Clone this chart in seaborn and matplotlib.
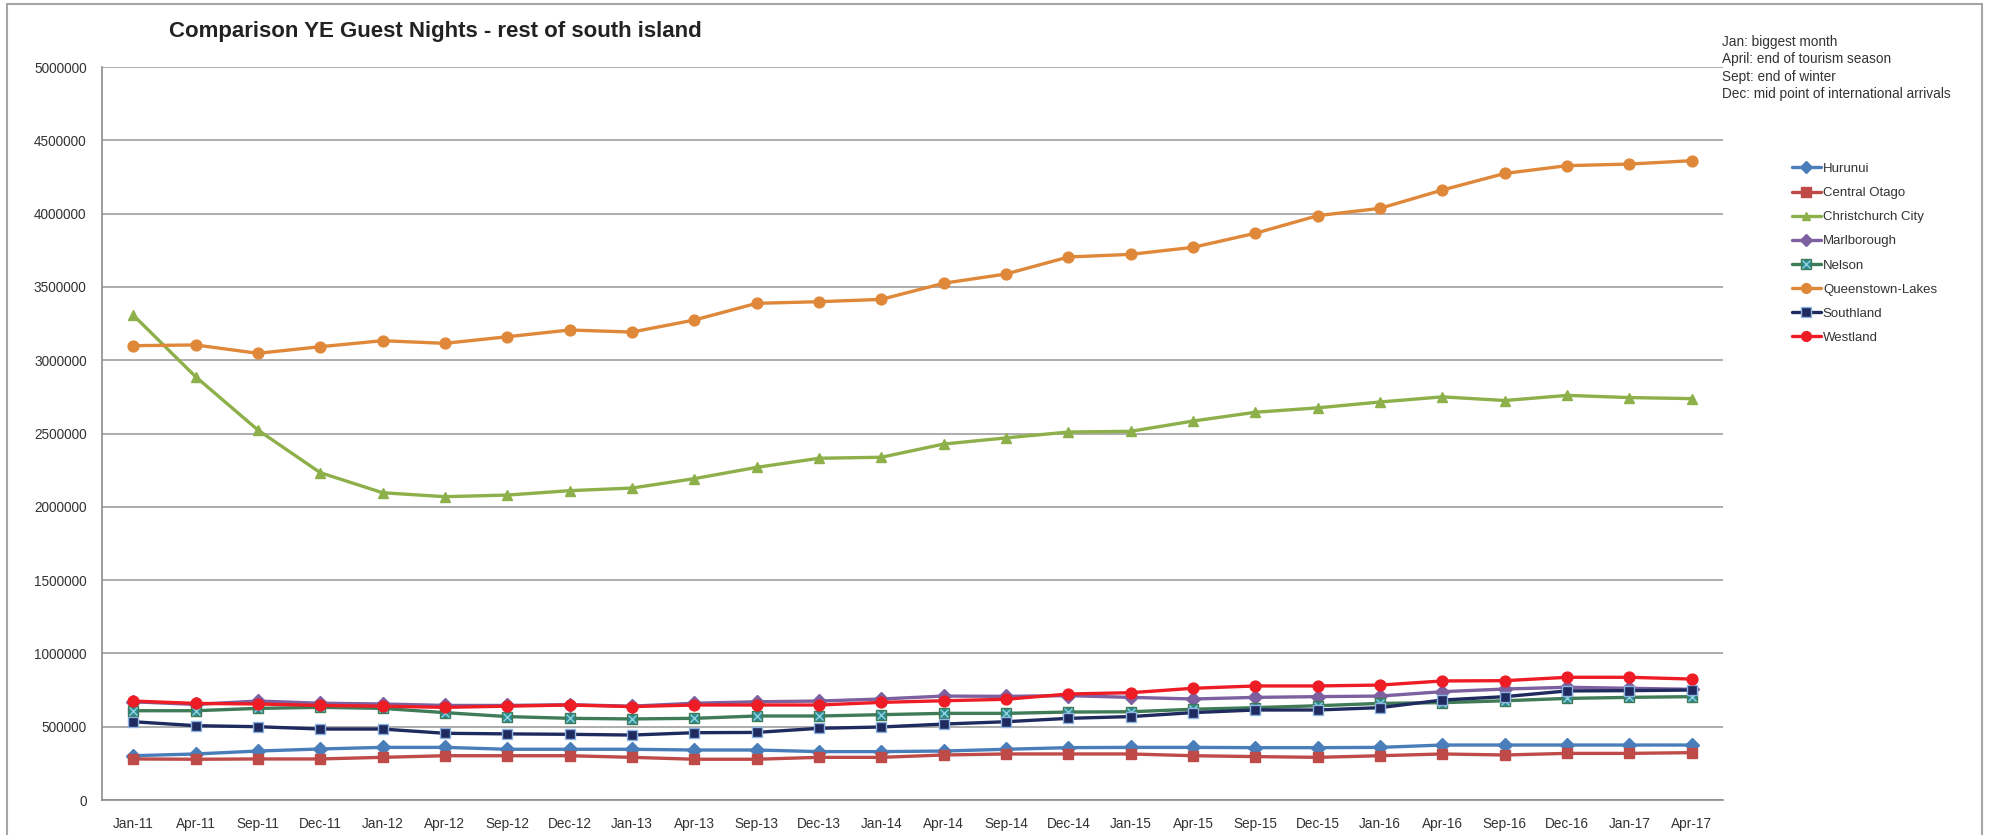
import numpy as np
import pandas as pd
import seaborn as sns
import matplotlib.pyplot as plt
from matplotlib.lines import Line2D

# periods (year ending)
periods = ['Jan-11', 'Apr-11', 'Sep-11', 'Dec-11', 'Jan-12', 'Apr-12', 'Sep-12', 'Dec-12',
           'Jan-13', 'Apr-13', 'Sep-13', 'Dec-13', 'Jan-14', 'Apr-14', 'Sep-14', 'Dec-14',
           'Jan-15', 'Apr-15', 'Sep-15', 'Dec-15', 'Jan-16', 'Apr-16', 'Sep-16', 'Dec-16',
           'Jan-17', 'Apr-17']

hurunui = [302000, 314000, 334000, 348000, 359000, 359000, 346000, 346000, 346000, 341000,
           341000, 330000, 330000, 334000, 346000, 357000, 359000, 359000, 357000, 357000,
           359000, 375000, 375000, 375000, 375000, 375000]
central_otago = [280000, 278000, 280000, 280000, 291000, 302000, 302000, 302000, 291000, 278000,
                 278000, 291000, 291000, 307000, 314000, 314000, 314000, 302000, 296000, 291000,
                 302000, 314000, 307000, 318000, 318000, 323000]
christchurch = [3308000, 2888000, 2524000, 2233000, 2096000, 2069000, 2080000, 2110000, 2128000,
                2192000, 2269000, 2331000, 2338000, 2428000, 2470000, 2510000, 2515000, 2585000,
                2645000, 2675000, 2715000, 2750000, 2725000, 2760000, 2745000, 2738000]
marlborough = [670000, 652000, 675000, 660000, 655000, 645000, 645000, 650000, 640000, 660000,
               670000, 675000, 689000, 709000, 707000, 712000, 700000, 689000, 700000, 705000,
               709000, 739000, 757000, 769000, 762000, 755000]
nelson = [609000, 609000, 625000, 632000, 625000, 596000, 569000, 557000, 553000, 557000,
          573000, 573000, 582000, 591000, 591000, 600000, 602000, 619000, 630000, 643000,
          659000, 664000, 677000, 693000, 700000, 705000]
queenstown = [3099000, 3104000, 3047000, 3092000, 3133000, 3115000, 3160000, 3206000, 3192000,
              3274000, 3388000, 3399000, 3415000, 3525000, 3588000, 3704000, 3722000, 3770000,
              3866000, 3986000, 4036000, 4161000, 4274000, 4327000, 4338000, 4361000]
southland = [534000, 507000, 500000, 484000, 484000, 455000, 451000, 448000, 443000, 459000,
             461000, 489000, 498000, 518000, 534000, 557000, 569000, 596000, 614000, 614000,
             630000, 682000, 705000, 744000, 746000, 750000]
westland = [675000, 659000, 655000, 645000, 640000, 632000, 640000, 648000, 637000, 648000,
            648000, 648000, 666000, 677000, 687000, 723000, 732000, 762000, 778000, 778000,
            784000, 812000, 814000, 837000, 837000, 825000]

notes = ['Jan: biggest month', 'April: end of tourism season', 'Sept: end of winter',
         'Dec: mid point of international arrivals']

series = [
    ('Hurunui', hurunui, '#4A7EBB', 'D', '#4A7EBB', '#4A7EBB'),
    ('Central Otago', central_otago, '#BE4B48', 's', '#BE4B48', '#BE4B48'),
    ('Christchurch City', christchurch, '#8DB04A', '^', '#8DB04A', '#8DB04A'),
    ('Marlborough', marlborough, '#7D60A0', 'D', '#7D60A0', '#7D60A0'),
    ('Nelson', nelson, '#3F7B57', 's', '#2E8A94', '#3F7B57'),
    ('Queenstown-Lakes', queenstown, '#E0883A', 'o', '#E0883A', '#E0883A'),
    ('Southland', southland, '#1F2A5E', 's', '#1F2A5E', '#8DB3E2'),
    ('Westland', westland, '#EE1C25', 'o', '#EE1C25', '#EE1C25'),
]

sns.set_style('white')
plt.rcParams['font.family'] = ['Liberation Sans', 'DejaVu Sans']

fig = plt.figure(figsize=(19.89, 8.35), dpi=100)
ax = fig.add_axes([102 / 1989, 1 - 800 / 835, (1723 - 102) / 1989, (800 - 67) / 835])

x = np.arange(len(periods))
handles, labels = [], []
for name, vals, col, mk, face, edge in series:
    df = pd.DataFrame({'period': x, 'value': vals})
    ms = 7.8 if mk in ('o', 's') else 6.8
    sns.lineplot(data=df, x='period', y='value', ax=ax, color=col, lw=2.4, sort=False,
                 marker=mk, markersize=ms, markerfacecolor=face, markeredgecolor=edge,
                 markeredgewidth=1.0, legend=False)
    h = Line2D([], [], color=col, lw=2.4, marker=mk, markersize=ms * 0.9,
               markerfacecolor=face, markeredgecolor=edge)
    if name == 'Nelson':
        # square marker with a light cross on top
        ax.plot(x, vals, ls='none', marker='x', ms=6, mec='#8FD3DA', mew=1.0)
        h = (h, Line2D([], [], ls='none', marker='x', ms=5.5, mec='#8FD3DA', mew=1.0))
    handles.append(h)
    labels.append(name)

ax.set_xlim(-0.5, len(periods) - 0.5)
ax.set_ylim(0, 5000000)
ax.set_yticks(np.arange(0, 5000001, 500000))
ax.yaxis.set_major_formatter(plt.FuncFormatter(lambda v, p: f'{int(v)}'))
ax.set_xticks(np.arange(-0.5, len(periods), 1.0))
ax.set_xticklabels([])
ax.set_xticks(x, minor=True)
ax.set_xticklabels(periods, minor=True)
ax.tick_params(axis='x', which='major', length=5, color='#8C8C8C', direction='out')
ax.tick_params(axis='x', which='minor', length=0, pad=12, labelsize=9.8, labelcolor='#333333')
ax.tick_params(axis='y', length=5, color='#8C8C8C', direction='out', pad=6,
               labelsize=9.8, labelcolor='#333333')
ax.set_xlabel('')
ax.set_ylabel('')
ax.grid(axis='y', color='#A6A6A6', lw=1.3)
ax.set_axisbelow(True)
for s in ['top', 'right']:
    ax.spines[s].set_visible(False)
for s in ['left', 'bottom']:
    ax.spines[s].set_color('#8C8C8C')
    ax.spines[s].set_linewidth(1.2)

fig.text(169 / 1989, 1 - 31 / 835, 'Comparison YE Guest Nights - rest of south island',
         ha='left', va='center', fontsize=16, fontweight='bold', color='#222222')
fig.text(1722 / 1989, 1 - 35 / 835, '\n'.join(notes), ha='left', va='top',
         fontsize=9.8, color='#333333', linespacing=1.3)

fig.legend(handles=handles, labels=labels, loc='upper left',
           bbox_to_anchor=(1780 / 1989, 1 - 151 / 835),
           frameon=False, fontsize=9.5, handlelength=2.2, handletextpad=0.15,
           labelspacing=0.9, labelcolor='#333333')

# outer chart border
border = dict(color='#A6A6A6', lw=1.5, transform=fig.transFigure)
fig.add_artist(Line2D([7 / 1989, 1982 / 1989], [1 - 4 / 835, 1 - 4 / 835], **border))
fig.add_artist(Line2D([7 / 1989, 7 / 1989], [0, 1 - 4 / 835], **border))
fig.add_artist(Line2D([1982 / 1989, 1982 / 1989], [0, 1 - 4 / 835], **border))

fig.savefig('out.png', dpi=100)
